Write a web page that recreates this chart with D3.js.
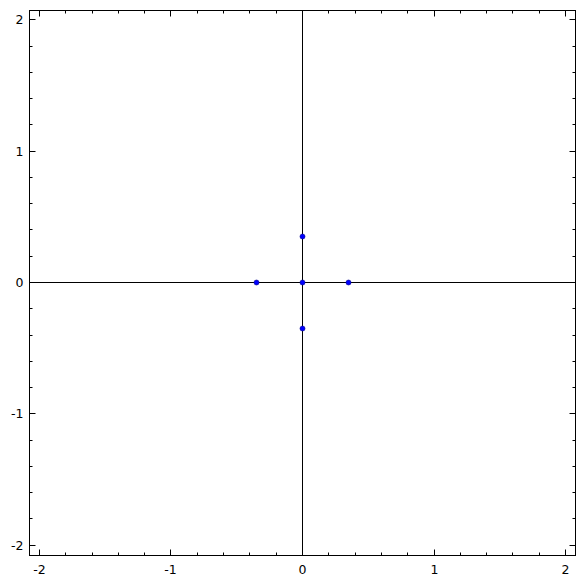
<!DOCTYPE html>
<html>
<head>
<script src="https://d3js.org/d3.v7.min.js"></script>
<style>
  body { margin: 0; background: #fff; }
  text { font-family: "DejaVu Sans", sans-serif; font-size: 12.5px; fill: #000; }
</style>
</head>
<body>
<script>
var xs = [0, 0, -0.35, 0.35, 0];
var ys = [0.35, -0.35, 0, 0, 0];
var majorTicks = [-2, -1, 0, 1, 2];
var minorTicks = d3.range(-20, 21, 2).map(function(d) { return d / 10; });

var width = 585, height = 585;
var padL = 29.5, padR = 575.5, padT = 10.5, padB = 555.5;

var x = d3.scaleLinear().domain([-2.076, 2.076]).range([padL, padR]);
var y = d3.scaleLinear().domain([-2.076, 2.076]).range([padB, padT]);

// snap to pixel centres
function px(d) { return Math.floor(x(d)) + 0.5; }
function py(d) { return Math.floor(y(d) - 0.5) + 0.5; }

var svg = d3.select("body").append("svg")
    .attr("width", width)
    .attr("height", height);

// axes through origin
svg.append("line")
    .attr("x1", padL).attr("x2", padR)
    .attr("y1", py(0)).attr("y2", py(0))
    .attr("stroke", "#000");
svg.append("line")
    .attr("x1", px(0)).attr("x2", px(0))
    .attr("y1", padT).attr("y2", padB)
    .attr("stroke", "#000");

// frame
svg.append("rect")
    .attr("x", padL).attr("y", padT)
    .attr("width", padR - padL).attr("height", padB - padT)
    .attr("fill", "none").attr("stroke", "#000");

// ticks pointing inward on all sides
function tickLen(d) { return majorTicks.indexOf(d) >= 0 ? 6 : 3; }
var ticks = svg.append("g").attr("stroke", "#000");
minorTicks.forEach(function(d) {
  var tx = px(d), ty = py(d), l = tickLen(d);
  ticks.append("line").attr("x1", tx).attr("x2", tx).attr("y1", padB).attr("y2", padB - l);
  ticks.append("line").attr("x1", tx).attr("x2", tx).attr("y1", padT).attr("y2", padT + l);
  ticks.append("line").attr("y1", ty).attr("y2", ty).attr("x1", padL).attr("x2", padL + l);
  ticks.append("line").attr("y1", ty).attr("y2", ty).attr("x1", padR).attr("x2", padR - l);
});

// labels
svg.selectAll(".xl").data(majorTicks).enter().append("text")
    .attr("x", function(d) { return px(d); })
    .attr("y", padB + 18)
    .attr("text-anchor", "middle")
    .text(function(d) { return d; });
svg.selectAll(".yl").data(majorTicks).enter().append("text")
    .attr("x", padL - 6)
    .attr("y", function(d) { return py(d) + 4.5; })
    .attr("text-anchor", "end")
    .text(function(d) { return d; });

// points
svg.selectAll(".pt").data(xs).enter().append("circle")
    .attr("cx", function(d) { return px(d); })
    .attr("cy", function(d, i) { return py(ys[i]); })
    .attr("r", 2.5)
    .attr("fill", "#0000ff")
    .attr("stroke", "#00008b")
    .attr("stroke-width", 0.6);
</script>
</body>
</html>
